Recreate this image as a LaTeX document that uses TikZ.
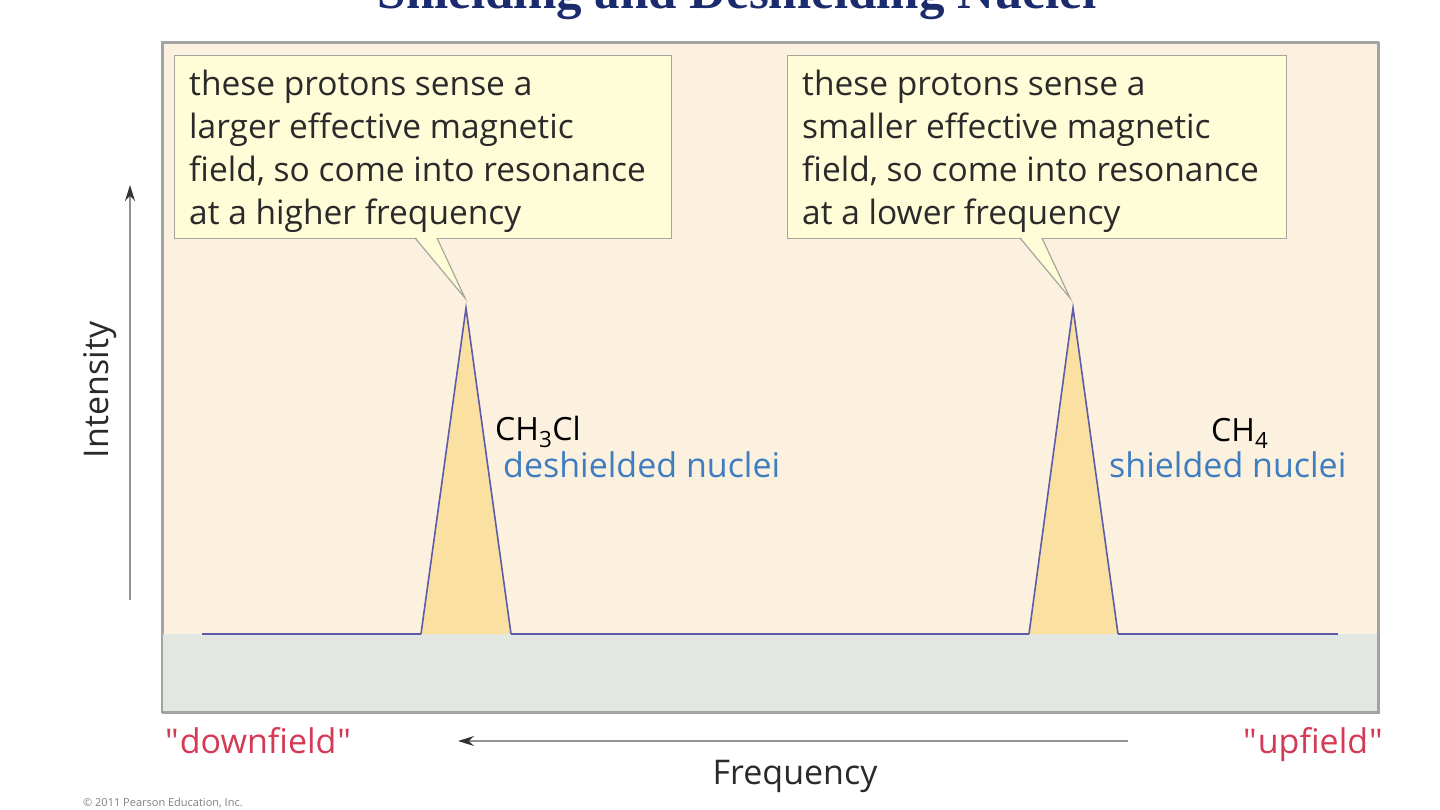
\documentclass[tikz,border=0pt]{standalone}
\usepackage{fontspec}
\setmainfont{Open Sans}
\newfontfamily\titlefont{Liberation Serif}
\usetikzlibrary{arrows.meta}
\definecolor{panelfill}{HTML}{FCF1DF}
\definecolor{stripfill}{HTML}{E2E8E1}
\definecolor{panelline}{HTML}{A3A3A3}
\definecolor{callfill}{HTML}{FFFCD8}
\definecolor{callline}{HTML}{A6A69C}
\definecolor{peakfill}{HTML}{FAE1A2}
\definecolor{peakline}{HTML}{5C5CAA}
\definecolor{bluetext}{HTML}{3E7DC0}
\definecolor{redtext}{HTML}{D43A55}
\definecolor{titlecol}{HTML}{1B2B6E}
\definecolor{textcol}{HTML}{2A2A2A}
\tikzset{
  callbox/.style={draw=callline, line width=1.2pt, fill=callfill, inner sep=0pt, anchor=north west},
  calltext/.style={anchor=base west, align=left, inner sep=0pt, text=textcol, font=\fontsize{33.5}{43}\selectfont},
  peak/.style={fill=peakfill, draw=peakline, line width=1.6pt, line join=miter},
  axisarrow/.style={draw=gray!85, line width=1.2pt, -{Stealth[length=16pt,width=10pt,color=black!80]}},
  lbl/.style={inner sep=0pt, font=\fontsize{34}{40}\selectfont},
}
\begin{document}
\begin{tikzpicture}[x=1pt,y=-1pt]
\useasboundingbox (0,0) rectangle (1440,809);
\begin{scope}
\clip (0,0) rectangle (1440,809);
% title (cut off at top)
\node[anchor=base, inner sep=0pt, text=titlecol, font=\titlefont\bfseries\fontsize{51}{55}\selectfont] (title) at (737,8) {Shielding and Deshielding Nuclei};
\end{scope}
% panel
\node[draw=panelline, fill=panelfill, line width=1.5pt, minimum width=1216pt, minimum height=670pt, anchor=north west, inner sep=0pt] (panel) at (162,42) {};
\fill[stripfill] (163,634) rectangle (1377,711);
\draw[panelline, line width=1.5pt] (162,42) rectangle (1378,712);
% peaks
\draw[peak] (421,634) -- (466,308) -- (511,634);
\draw[peak] (1029,634) -- (1073,308) -- (1118,634);
\draw[peakline, line width=1.6pt] (202,634) -- (421,634) (511,634) -- (1029,634) (1118,634) -- (1338,634);
% callout 1
\node[callbox, minimum width=497pt, minimum height=183pt] (c1) at (174,55) {};
\node[calltext] (t1) at (189,224) {these protons sense a\\larger effective magnetic\\field, so come into resonance\\at a higher frequency};
\coordinate (p1) at (465,298);
\fill[callfill] (415,236) -- (p1) -- (437,236) -- cycle;
\draw[callline, line width=1.2pt] (415,238) -- (p1) -- (437,238);
% callout 2
\node[callbox, minimum width=499pt, minimum height=183pt] (c2) at (787,55) {};
\node[calltext] (t2) at (802,224) {these protons sense a\\smaller effective magnetic\\field, so come into resonance\\at a lower frequency};
\coordinate (p2) at (1070,298);
\fill[callfill] (1020,236) -- (p2) -- (1042,236) -- cycle;
\draw[callline, line width=1.2pt] (1020,238) -- (p2) -- (1042,238);
% labels
\node[lbl, anchor=base west, text=black, font=\fontsize{32}{38}\selectfont] (ch3cl) at (495,440) {CH\textsubscript{3}Cl};
\node[lbl, anchor=base west, text=bluetext] (desh) at (503,477) {deshielded nuclei};
\node[lbl, anchor=base west, text=black, font=\fontsize{32}{38}\selectfont] (ch4) at (1211,441) {CH\textsubscript{4}};
\node[lbl, anchor=base west, text=bluetext] (sh) at (1109,477) {shielded nuclei};
% intensity axis
\coordinate (ya) at (130,600);
\coordinate (yb) at (130,185);
\draw[axisarrow] (ya) -- (yb);
\node[lbl, rotate=90, text=textcol] (int) at (100,390) {Intensity};
% frequency axis
\coordinate (fa) at (1128,741);
\coordinate (fb) at (458,741);
\draw[axisarrow] (fa) -- (fb);
\node[lbl, anchor=base, text=textcol] (freq) at (795,784) {Frequency};
\node[lbl, anchor=base west, text=redtext] (down) at (165,753) {\textquotedbl\kern1pt downfield\kern1pt\textquotedbl};
\node[lbl, anchor=base east, text=redtext] (up) at (1383,753) {\textquotedbl\kern1pt upfield\kern1pt\textquotedbl};
% copyright
\node[anchor=base west, inner sep=0pt, text=gray, font=\fontsize{11}{12}\selectfont] (copy) at (83,806) {\textcopyright\ 2011 Pearson Education, Inc.};
\end{tikzpicture}
\end{document}
